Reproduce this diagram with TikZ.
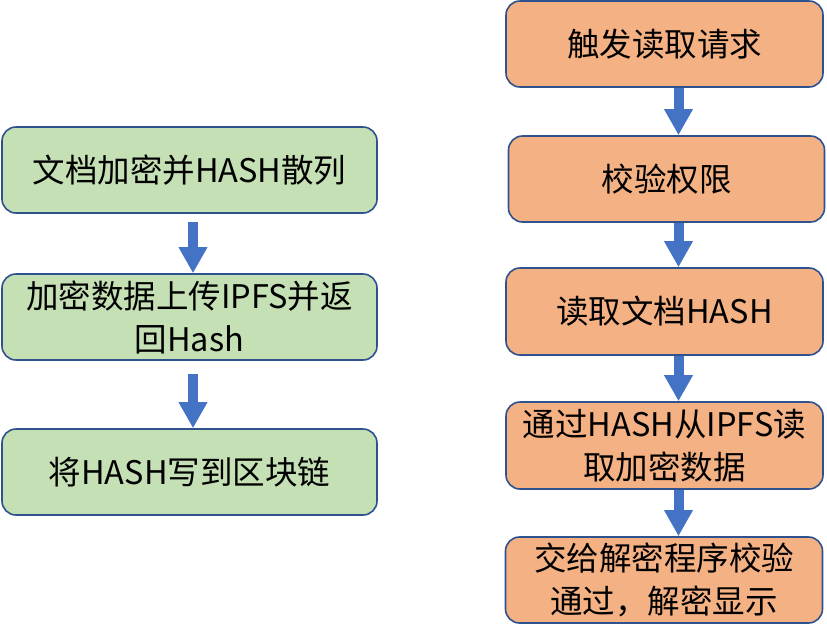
\documentclass[tikz,border=0pt]{standalone}
\usepackage{fontspec}
\setmainfont{Noto Sans CJK SC}
\usetikzlibrary{arrows.meta,calc}
\definecolor{bordc}{HTML}{2F528F}
\definecolor{greenf}{HTML}{C5E0B4}
\definecolor{orangef}{HTML}{F4B183}
\definecolor{arrc}{HTML}{4472C4}
\tikzset{
  box/.style={draw=bordc, line width=1.6pt, rounded corners=14pt, inner sep=0pt,
    align=center, font=\fontsize{32.5}{43}\selectfont, text=black},
  lbox/.style={box, fill=greenf, minimum width=375pt, minimum height=86pt},
  rbox/.style={box, fill=orangef, minimum width=317pt, minimum height=86pt},
  flow/.style={draw=arrc, line width=10pt, -{Triangle[width=27pt,length=26pt]}}
}
\begin{document}
\begin{tikzpicture}[x=1pt,y=-1pt]
\useasboundingbox (0,0) rectangle (827,641);
% left column
\node[lbox] (l1) at (189.5,170) {文档加密并HASH散列};
\node[lbox] (l2) at (189.5,317) {加密数据上传IPFS并返\\回Hash};
\node[lbox] (l3) at (189.5,472) {将HASH写到区块链};
% right column
\node[rbox] (r1) at (664.5,44) {触发读取请求};
\node[rbox, minimum width=316pt] (r2) at (666.5,179) {校验权限};
\node[rbox, minimum height=87pt] (r3) at (664.5,311.5) {读取文档HASH};
\node[rbox, minimum height=87pt] (r4) at (664.5,445.5) {通过HASH从IPFS读\\取加密数据};
\node[rbox] (r5) at (664,580) {交给解密程序校验\\通过，解密显示};
% arrows
\draw[flow] ([xshift=3.5pt,yshift=-8pt]l1.south) -- ([xshift=3.5pt]l2.north);
\draw[flow] ([xshift=3.5pt,yshift=-13pt]l2.south) -- ([xshift=3.5pt]l3.north);
\draw[flow] ([xshift=14pt]r1.south) -- ([xshift=12pt]r2.north);
\draw[flow] ([xshift=12pt]r2.south) -- ([xshift=14pt]r3.north);
\draw[flow] ([xshift=14pt]r3.south) -- ([xshift=14pt]r4.north);
\draw[flow] ([xshift=14pt]r4.south) -- ([xshift=14.5pt]r5.north);
\end{tikzpicture}
\end{document}
